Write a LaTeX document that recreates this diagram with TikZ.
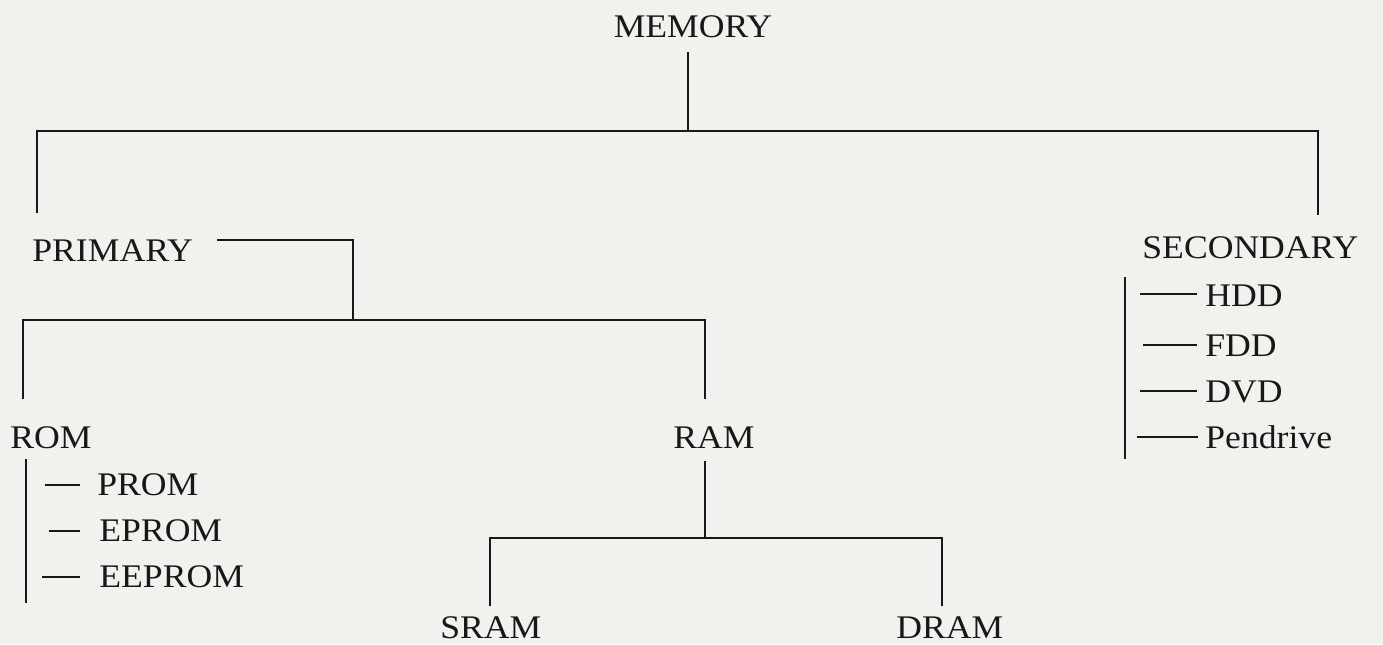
\documentclass[tikz,border=0pt]{standalone}
\usepackage{fontspec}
\setmainfont{Liberation Serif}[FakeStretch=1.08]
\definecolor{paper}{RGB}{241,241,238}
\definecolor{ink}{RGB}{24,24,24}
\begin{document}
\begin{tikzpicture}[x=0.5pt,y=-0.5pt,
  lbl/.style={inner sep=0pt,text=ink,font=\fontsize{16.5pt}{20pt}\selectfont},
  wire/.style={draw=ink,line width=1.45pt,line cap=rect}]
% page
\fill[paper] (0,0) rectangle (1383,644);
\useasboundingbox (0,0) rectangle (1383,644);

% labels
\node[lbl,anchor=base] (mem) at (693,37) {MEMORY};
\node[lbl,anchor=base west] (pri) at (32,261) {PRIMARY};
\node[lbl,anchor=base west] (sec) at (1142,258) {SECONDARY};
\node[lbl,anchor=base west] (rom) at (10,448) {ROM};
\node[lbl,anchor=base west] (ram) at (673,448) {RAM};
\node[lbl,anchor=base west] (prom) at (97,495) {PROM};
\node[lbl,anchor=base west] (eprom) at (99,541) {EPROM};
\node[lbl,anchor=base west] (eeprom) at (99,587) {EEPROM};
\node[lbl,anchor=base west] (sram) at (440,638) {SRAM};
\node[lbl,anchor=base west] (dram) at (896,638) {DRAM};
\node[lbl,anchor=base west] (hdd) at (1205,306) {HDD};
\node[lbl,anchor=base west] (fdd) at (1205,356) {FDD};
\node[lbl,anchor=base west] (dvd) at (1205,402) {DVD};
\node[lbl,anchor=base west] (pen) at (1205,448) {Pendrive};

% junction points
\coordinate (memtop) at (688,53);
\coordinate (memjn) at (688,131);
\coordinate (busL) at (37,131);
\coordinate (busR) at (1318,131);
\coordinate (priend) at (37,212);
\coordinate (secend) at (1318,214);
\coordinate (prist) at (218,240);
\coordinate (pricorner) at (353,240);
\coordinate (prijn) at (353,320);
\coordinate (pbusL) at (23,320);
\coordinate (pbusR) at (705,320);
\coordinate (romend) at (23,398);
\coordinate (ramend) at (705,398);
\coordinate (ramtop) at (705,462);
\coordinate (ramjn) at (705,538);
\coordinate (rbusL) at (490,538);
\coordinate (rbusR) at (942,538);
\coordinate (sramend) at (490,605);
\coordinate (dramend) at (942,605);
\coordinate (rombarT) at (26,460);
\coordinate (rombarB) at (26,602);
\coordinate (secbarT) at (1125,278);
\coordinate (secbarB) at (1125,458);

% memory to primary / secondary
\draw[wire] (memtop) -- (memjn);
\draw[wire] (priend) -- (busL) -- (busR) -- (secend);

% primary to ROM / RAM
\draw[wire] (prist) -- (pricorner) -- (prijn);
\draw[wire] (romend) -- (pbusL) -- (pbusR) -- (ramend);

% RAM to SRAM / DRAM
\draw[wire] (ramtop) -- (ramjn);
\draw[wire] (sramend) -- (rbusL) -- (rbusR) -- (dramend);

% ROM list
\draw[wire] (rombarT) -- (rombarB);
\draw[wire] (46,485) -- (79,485);
\draw[wire] (50,531) -- (79,531);
\draw[wire] (43,577) -- (79,577);

% secondary list
\draw[wire] (secbarT) -- (secbarB);
\draw[wire] (1141,294) -- (1196,294);
\draw[wire] (1144,345) -- (1196,345);
\draw[wire] (1141,391) -- (1196,391);
\draw[wire] (1138,437) -- (1197,437);
\end{tikzpicture}
\end{document}
